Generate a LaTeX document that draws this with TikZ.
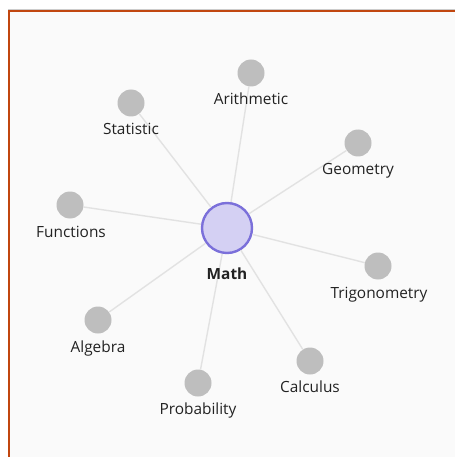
\documentclass[tikz,border=0pt]{standalone}
\usepackage{fontspec}
\setmainfont{Open Sans}
\definecolor{bgc}{HTML}{FAFAFA}
\definecolor{framec}{HTML}{C1460F}
\definecolor{edgec}{HTML}{E2E2E2}
\definecolor{leafc}{HTML}{BEBEBE}
\definecolor{hubfill}{HTML}{D4D0F3}
\definecolor{hubdraw}{HTML}{7B70DA}
\definecolor{textc}{HTML}{222222}
\begin{document}
\begin{tikzpicture}[x=1pt,y=-1pt,
  leaf/.style={circle,fill=leafc,minimum size=27pt,inner sep=0pt},
  hub/.style={circle,fill=hubfill,draw=hubdraw,line width=2.4pt,minimum size=50pt,inner sep=0pt},
  lab/.style={anchor=base,text=textc,font=\fontsize{15.4}{17}\selectfont,inner sep=0pt},
  conn/.style={draw=edgec,line width=1.4pt}]
\useasboundingbox (0,0) rectangle (455,457);
\fill[white] (0,0) rectangle (455,457);
\fill[bgc] (9,11) rectangle (455,457);
\draw[gray!40,line width=0.6pt] (8,9) -- (455,9);
\draw[framec,line width=2.4pt] (8,11) -- (455,11);
\draw[framec,line width=2.4pt] (9,10) -- (9,457);
% nodes
\node[hub] (math) at (227,228) {};
\node[leaf] (arith) at (251,73) {};
\node[leaf] (stat) at (131,103) {};
\node[leaf] (geom) at (358,143) {};
\node[leaf] (func) at (70,205) {};
\node[leaf] (trig) at (378,266) {};
\node[leaf] (alg) at (98,320) {};
\node[leaf] (calc) at (310,361) {};
\node[leaf] (prob) at (198,383) {};
% edges
\draw[conn] (math) -- (arith);
\draw[conn] (math) -- (stat);
\draw[conn] (math) -- (geom);
\draw[conn] (math) -- (func);
\draw[conn] (math) -- (trig);
\draw[conn] (math) -- (alg);
\draw[conn] (math) -- (calc);
\draw[conn] (math) -- (prob);
% labels
\node[lab,font=\fontsize{15.4}{17}\selectfont\bfseries] (lmath) at (227,279) {Math};
\node[lab] (larith) at (251,105) {Arithmetic};
\node[lab] (lstat) at (131,135) {Statistic};
\node[lab] (lgeom) at (358,175) {Geometry};
\node[lab] (lfunc) at (71,237) {Functions};
\node[lab] (ltrig) at (379,298) {Trigonometry};
\node[lab] (lalg) at (98,352) {Algebra};
\node[lab] (lcalc) at (310,392) {Calculus};
\node[lab] (lprob) at (198,414) {Probability};
\end{tikzpicture}
\end{document}
